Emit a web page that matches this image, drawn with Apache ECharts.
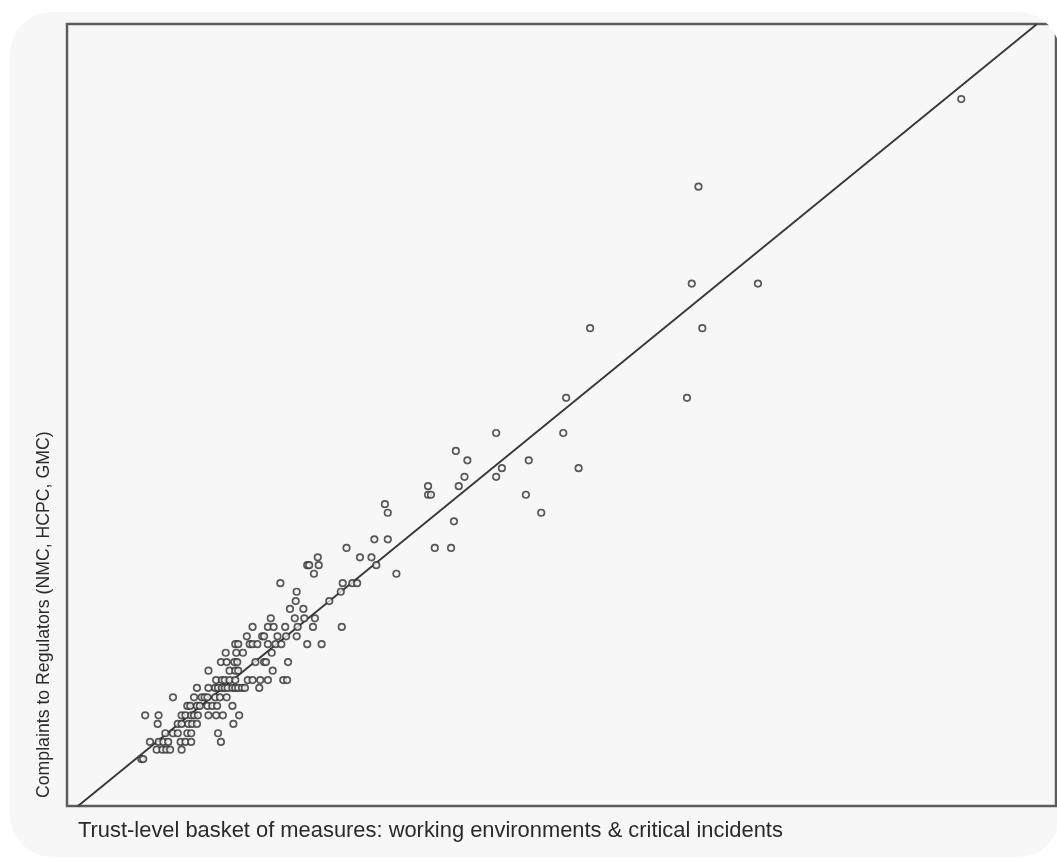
<!DOCTYPE html>
<html>
<head>
<meta charset="utf-8">
<script src="https://cdn.jsdelivr.net/npm/echarts@6/dist/echarts.min.js"></script>
<style>
html,body{margin:0;padding:0;background:#ffffff;width:1057px;height:859px;overflow:hidden;}
#bg{position:absolute;left:10px;top:12px;width:1050px;height:845px;border-radius:42px;background:#f7f7f7;overflow:hidden;}
#chart{position:absolute;left:-10px;top:-12px;width:1057px;height:859px;}
</style>
</head>
<body>
<div id="bg"><div id="chart"></div></div>
<script>
// Axis titles
const xTitle = 'Trust-level basket of measures: working environments & critical incidents';
const yTitle = 'Complaints to Regulators (NMC, HCPC, GMC)';

// Scatter points, grouped by row (same complaint level)
const xValues = [
  92.1,
  64.7,
  64.0, 70.9,
  53.4, 65.1,
  50.9, 63.5,
  43.6, 50.6,
  39.4,
  40.6, 47.0,
  44.2, 52.2,
  40.3, 43.6,
  36.5, 39.7,
  36.5, 36.8, 46.7,
  32.0,
  32.3, 48.3,
  39.2,
  30.9, 32.3,
  28.0, 37.2, 38.9,
  29.4, 30.6, 25.0,
  23.9, 24.1, 25.1, 31.1,
  24.6, 33.2,
  21.1, 27.6, 28.6, 29.1,
  22.8, 27.4,
  22.7, 26.2,
  22.1, 23.5,
  20.1, 22.6, 23.6, 24.7,
  18.2, 19.8, 20.4, 21.6, 22.9, 24.5, 27.5,
  17.6, 19.2, 19.4, 20.8, 21.7, 22.8,
  16.4, 16.7, 17.9, 18.2, 18.7, 19.8, 20.6, 21.2, 23.9, 25.4,
  15.4, 16.5, 17.2, 20.2,
  14.9, 15.5, 16.3, 16.6, 18.5, 19.4, 19.6, 21.9,
  13.6, 15.8, 16.4, 16.7, 20.3,
  14.4, 15.0, 15.3, 15.8, 16.4, 17.7, 18.2, 19.0, 19.8, 21.4, 21.8,
  12.4, 13.6, 14.3, 14.6, 15.0, 15.3, 15.6, 16.1, 16.4, 16.7, 17.1, 17.4, 18.9,
  9.9, 12.1, 12.9, 13.2, 13.5, 14.3, 14.8, 15.5,
  11.4, 11.7, 12.4, 12.7, 13.5, 14.0, 14.5, 16.1,
  7.0, 8.4, 10.8, 11.2, 11.8, 12.1, 12.5, 13.6, 14.4, 15.1, 16.8,
  8.3, 10.4, 10.8, 11.5, 11.9, 12.4, 16.2,
  9.1, 9.9, 10.4, 11.4, 11.8, 14.6,
  7.5, 8.4, 8.9, 9.4, 10.7, 11.2, 11.8, 14.9,
  8.2, 8.8, 9.2, 9.6, 10.8,
  6.6, 6.8
];
const yValues = [
  90.4,
  79.2,
  66.8, 66.8,
  61.1, 61.1,
  52.2, 52.2,
  47.7, 47.7,
  45.4,
  44.2, 44.2,
  43.2, 43.2,
  42.1, 42.1,
  40.9, 40.9,
  39.8, 39.8, 39.8,
  38.6,
  37.5, 37.5,
  36.4,
  34.1, 34.1,
  33.0, 33.0, 33.0,
  31.8, 31.8, 31.8,
  30.8, 30.8, 30.8, 30.8,
  29.7, 29.7,
  28.5, 28.5, 28.5, 28.5,
  27.4, 27.4,
  26.2, 26.2,
  25.2, 25.2,
  24.0, 24.0, 24.0, 24.0,
  22.9, 22.9, 22.9, 22.9, 22.9, 22.9, 22.9,
  21.7, 21.7, 21.7, 21.7, 21.7, 21.7,
  20.7, 20.7, 20.7, 20.7, 20.7, 20.7, 20.7, 20.7, 20.7, 20.7,
  19.6, 19.6, 19.6, 19.6,
  18.4, 18.4, 18.4, 18.4, 18.4, 18.4, 18.4, 18.4,
  17.3, 17.3, 17.3, 17.3, 17.3,
  16.1, 16.1, 16.1, 16.1, 16.1, 16.1, 16.1, 16.1, 16.1, 16.1, 16.1,
  15.1, 15.1, 15.1, 15.1, 15.1, 15.1, 15.1, 15.1, 15.1, 15.1, 15.1, 15.1, 15.1,
  13.9, 13.9, 13.9, 13.9, 13.9, 13.9, 13.9, 13.9,
  12.8, 12.8, 12.8, 12.8, 12.8, 12.8, 12.8, 12.8,
  11.6, 11.6, 11.6, 11.6, 11.6, 11.6, 11.6, 11.6, 11.6, 11.6, 11.6,
  10.5, 10.5, 10.5, 10.5, 10.5, 10.5, 10.5,
  9.3, 9.3, 9.3, 9.3, 9.3, 9.3,
  8.2, 8.2, 8.2, 8.2, 8.2, 8.2, 8.2, 8.2,
  7.2, 7.2, 7.2, 7.2, 7.2,
  6.0, 6.0
];

// Fit line endpoints (y = x)
const fitX = [0, 100];
const fitY = [0, 100];

const points = xValues.map((x, i) => [x, yValues[i]]);
const fitLine = fitX.map((x, i) => [x, fitY[i]]);

const chart = echarts.init(document.getElementById('chart'), null, {renderer: 'canvas'});
chart.setOption({
  animation: false,
  backgroundColor: 'transparent',
  grid: {
    left: 67, top: 24, right: 1, bottom: 53,
    show: true, borderColor: '#5c5c5c', borderWidth: 2.5, backgroundColor: 'transparent'
  },
  xAxis: {
    type: 'value', min: -1.15, max: 101.98,
    axisLine: {show: false}, axisTick: {show: false}, axisLabel: {show: false}, splitLine: {show: false}
  },
  yAxis: {
    type: 'value', min: 0, max: 100,
    axisLine: {show: false}, axisTick: {show: false}, axisLabel: {show: false}, splitLine: {show: false}
  },
  graphic: [
    {
      type: 'text', x: 78, y: 831,
      style: {text: xTitle, fill: '#2a2a2a', font: '21.9px "Liberation Sans", Arial, sans-serif', align: 'left', verticalAlign: 'middle'}
    },
    {
      type: 'text', x: 44, y: 798, rotation: Math.PI / 2,
      style: {text: yTitle, fill: '#2a2a2a', font: '17.7px "Liberation Sans", Arial, sans-serif', align: 'left', verticalAlign: 'middle'}
    }
  ],
  series: [
    {
      type: 'line', data: fitLine, showSymbol: false, silent: true,
      lineStyle: {color: '#383838', width: 1.9}, z: 2
    },
    {
      type: 'scatter', data: points, symbol: 'circle', symbolSize: 6.5,
      itemStyle: {color: '#f4f4f4', borderColor: '#303030', borderWidth: 1.7}, z: 3
    }
  ]
});
</script>
</body>
</html>
